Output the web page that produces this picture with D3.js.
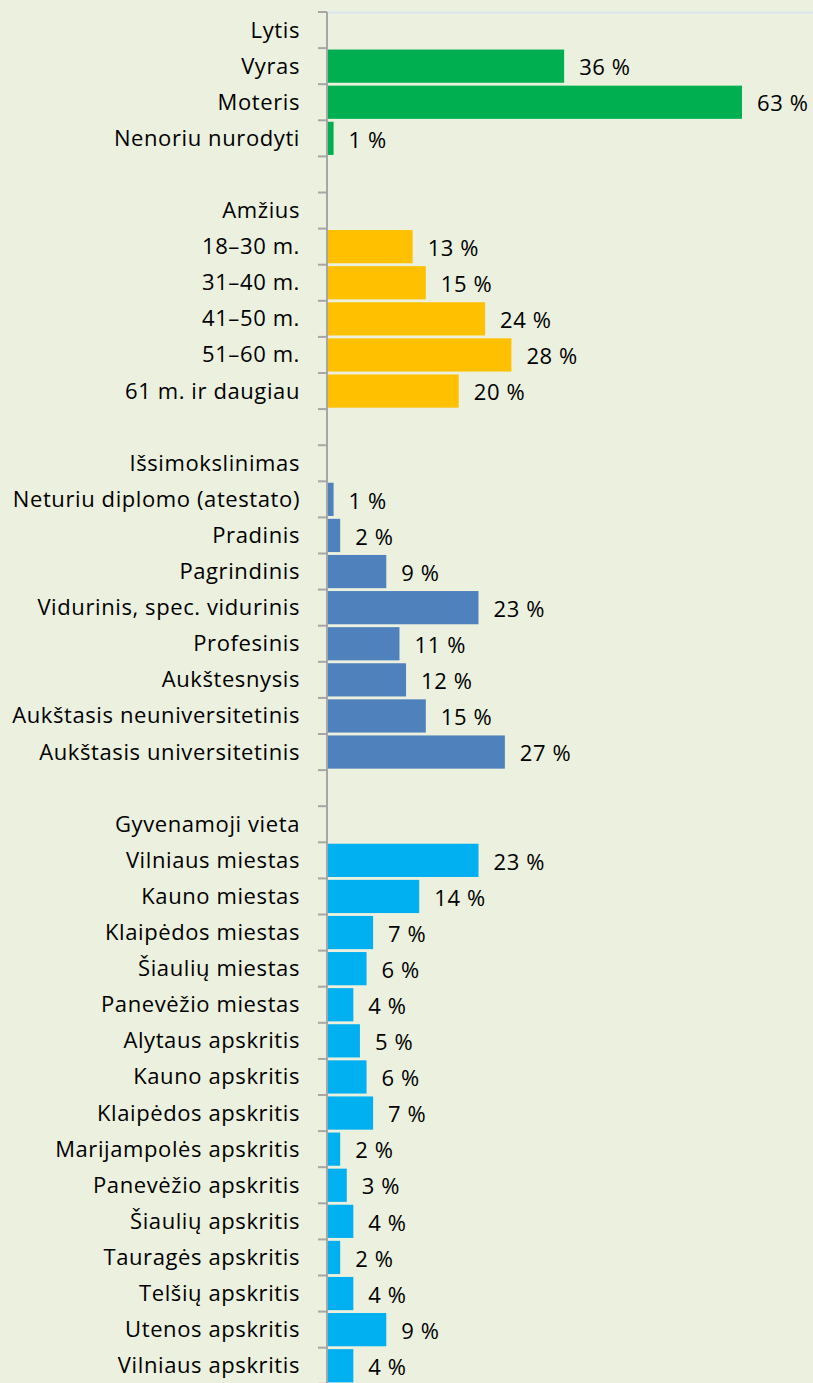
<!DOCTYPE html>
<html>
<head>
<meta charset="utf-8">
<script src="https://cdn.jsdelivr.net/npm/d3@7"></script>
<style>
  html, body { margin: 0; padding: 0; background: #EBF1DE; }
  svg { display: block; }
  text { font-family: "Open Sans", Lato, sans-serif; }
</style>
</head>
<body>
<script>
// 画布尺寸
var w = 813;
var h = 1383;

// 分组与类别（空字符串为分组间的空行）
var categories = [
    "Lytis", "Vyras", "Moteris", "Nenoriu nurodyti", "",
    "Amžius", "18–30 m.", "31–40 m.", "41–50 m.", "51–60 m.", "61 m. ir daugiau", "",
    "Išsimokslinimas", "Neturiu diplomo (atestato)", "Pradinis", "Pagrindinis",
    "Vidurinis, spec. vidurinis", "Profesinis", "Aukštesnysis",
    "Aukštasis neuniversitetinis", "Aukštasis universitetinis", "",
    "Gyvenamoji vieta", "Vilniaus miestas", "Kauno miestas", "Klaipėdos miestas",
    "Šiaulių miestas", "Panevėžio miestas", "Alytaus apskritis", "Kauno apskritis",
    "Klaipėdos apskritis", "Marijampolės apskritis", "Panevėžio apskritis",
    "Šiaulių apskritis", "Tauragės apskritis", "Telšių apskritis",
    "Utenos apskritis", "Vilniaus apskritis"
];

// 数值（百分比），null 表示无柱
var values = [
    null, 36, 63, 1, null,
    null, 13, 15, 24, 28, 20, null,
    null, 1, 2, 9, 23, 11, 12, 15, 27, null,
    null, 23, 14, 7, 6, 4, 5, 6, 7, 2, 3, 4, 2, 4, 9, 4
];

// 每个类别所属分组
var groups = [
    0, 0, 0, 0, 0,
    1, 1, 1, 1, 1, 1, 1,
    2, 2, 2, 2, 2, 2, 2, 2, 2, 2,
    3, 3, 3, 3, 3, 3, 3, 3, 3, 3, 3, 3, 3, 3, 3, 3
];

// 分组颜色
var groupColors = ["#00B050", "#FFC000", "#4F81BD", "#00B0F0"];

var rows = categories.map(function (c, i) {
    return { idx: i, label: c, value: values[i], group: groups[i] };
});

var axisX = 327;
var topY = 12;
var step = 36.1;
var fontSize = 22;
var spacing = 0.6;

var y = d3.scaleBand()
    .domain(rows.map(function (d) { return d.idx; }))
    .range([topY, topY + step * rows.length])
    .paddingInner(0.08)
    .paddingOuter(0.04);

var x = d3.scaleLinear()
    .domain([0, 63])
    .range([axisX, 742]);

var svg = d3.select("body").append("svg")
    .attr("width", w)
    .attr("height", h);

// 背景
svg.append("rect")
    .attr("width", w)
    .attr("height", h)
    .attr("fill", "#EBF1DE");

// 顶部边线
svg.append("line")
    .attr("x1", axisX)
    .attr("x2", w)
    .attr("y1", topY + 0.5)
    .attr("y2", topY + 0.5)
    .attr("stroke", "#DCE6F2")
    .attr("stroke-width", 2);

// 柱子
svg.selectAll("rect.bar")
    .data(rows.filter(function (d) { return d.value != null; }))
    .enter()
    .append("rect")
    .attr("class", "bar")
    .attr("x", x(0) + 1)
    .attr("y", function (d) { return y(d.idx); })
    .attr("width", function (d) { return x(d.value) - x(0) - 1; })
    .attr("height", y.bandwidth())
    .attr("fill", function (d) { return groupColors[d.group]; });

// 数值标签
svg.selectAll("text.val")
    .data(rows.filter(function (d) { return d.value != null; }))
    .enter()
    .append("text")
    .attr("class", "val")
    .attr("x", function (d) { return x(d.value) + 15; })
    .attr("y", function (d) { return y(d.idx) + y.bandwidth() / 2 + 1.5; })
    .attr("dy", "0.35em")
    .attr("font-size", fontSize)
    .attr("letter-spacing", spacing)
    .attr("fill", "#000")
    .text(function (d) { return d.value + " %"; });

// 纵轴：类别标签
var axis = d3.axisLeft(y)
    .tickSize(0)
    .tickPadding(27)
    .tickFormat(function (i) { return categories[i]; });

var g = svg.append("g")
    .attr("transform", "translate(" + axisX + ",0.5)")
    .call(axis);

g.select(".domain").remove();
g.selectAll("text")
    .attr("font-size", fontSize)
    .attr("letter-spacing", spacing)
    .attr("fill", "#000")
    .attr("font-family", "'Open Sans', Lato, sans-serif");

// 轴线与分隔刻度
svg.append("line")
    .attr("x1", axisX)
    .attr("x2", axisX)
    .attr("y1", topY)
    .attr("y2", h)
    .attr("stroke", "#A6A6A6")
    .attr("stroke-width", 2);

var bounds = d3.range(rows.length + 1).map(function (i) { return topY + i * step; });
svg.selectAll("line.tick")
    .data(bounds)
    .enter()
    .append("line")
    .attr("class", "tick")
    .attr("x1", axisX - 9)
    .attr("x2", axisX)
    .attr("y1", function (d) { return d; })
    .attr("y2", function (d) { return d; })
    .attr("stroke", "#A6A6A6")
    .attr("stroke-width", 2);
</script>
</body>
</html>
